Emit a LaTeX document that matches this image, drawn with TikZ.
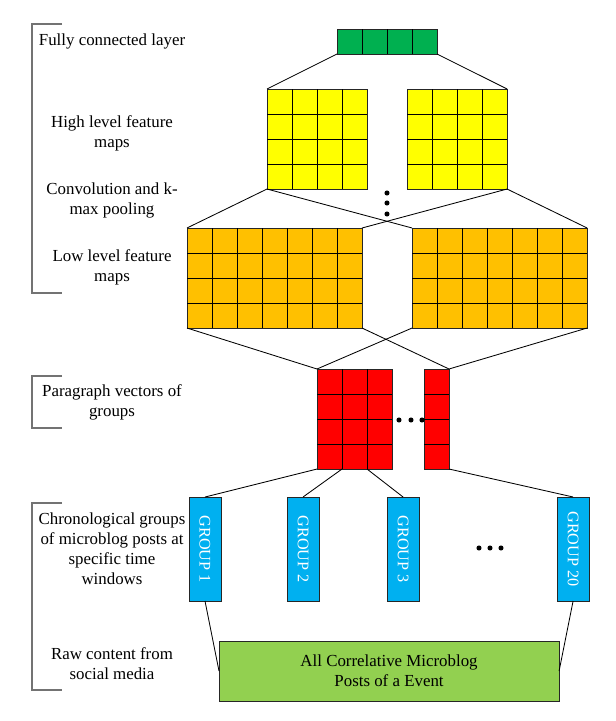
\documentclass[tikz,border=0pt]{standalone}
\usepackage{fontspec}
\setmainfont{Liberation Serif}
\usetikzlibrary{calc,positioning}
\definecolor{fcgreen}{HTML}{00B050}
\definecolor{hlyellow}{HTML}{FFFF00}
\definecolor{llorange}{HTML}{FFC000}
\definecolor{pvred}{HTML}{FF0000}
\definecolor{grpblue}{HTML}{00B0F0}
\definecolor{rawgreen}{HTML}{92D050}
\tikzset{%
	fmap/.style     = {draw=black!85, rectangle, inner sep=0pt, outer sep=0pt, line width=0.6pt},
	fmapline/.style = {line width=0.6pt},
	fcbox/.style    = {fmap, fill=fcgreen, minimum width=2.5cm, minimum height=0.625cm},
	highmap/.style  = {fmap, fill=hlyellow, minimum width=2.5cm, minimum height=2.5cm},
	lowmap/.style   = {fmap, fill=llorange, minimum width=4.375cm, minimum height=2.5cm},
	parvec/.style   = {fmap, fill=pvred, minimum height=2.5cm},
	groupbox/.style = {fmap, fill=grpblue, minimum width=0.8cm, minimum height=2.6cm, text=white, font=\fontsize{11.5}{13}\selectfont},
	rawbox/.style   = {fmap, fill=rawgreen, minimum width=8.5cm, minimum height=1.5cm, align=center, font=\fontsize{12}{14.2}\selectfont},
	desc/.style     = {align=center, inner sep=0pt, font=\fontsize{12}{14.2}\selectfont},
	link/.style     = {line width=0.6pt},
	bracket/.style  = {line width=0.8pt, draw=black!55},
}
% inner cell lines of a map: node, columns, rows
\newcommand{\cellgrid}[3]{%
	\foreach \i in {1,...,#2}{\ifnum\i<#2
		\draw[fmapline] ($(#1.south west)!\i/#2!(#1.south east)$) -- ($(#1.north west)!\i/#2!(#1.north east)$);\fi}
	\foreach \j in {1,...,#3}{\ifnum\j<#3
		\draw[fmapline] ($(#1.south west)!\j/#3!(#1.north west)$) -- ($(#1.south east)!\j/#3!(#1.north east)$);\fi}
}
\begin{document}
\begin{tikzpicture}[x=0.025cm,y=-0.025cm]
	\useasboundingbox (0,0) rectangle (616,721);

	% layers
	\node [fcbox, anchor=north west] (fc) at (337,29) {};
	\node [highmap, anchor=north west] (hl1) at (267,89) {};
	\node [highmap, right=1cm of hl1] (hl2) {};
	\node [lowmap, anchor=north west] (ll1) at (187,228) {};
	\node [lowmap, right=1.25cm of ll1] (ll2) {};
	\node [parvec, minimum width=1.875cm, anchor=north west] (pv1) at (317,369) {};
	\node [parvec, minimum width=0.625cm, right=0.8cm of pv1] (pv2) {};
	\node [groupbox, anchor=north west] (g1) at (189,497) {\rotatebox{-90}{GROUP 1}};
	\node [groupbox, right=1.65cm of g1] (g2) {\rotatebox{-90}{GROUP 2}};
	\node [groupbox, right=1.7cm of g2] (g3) {\rotatebox{-90}{GROUP 3}};
	\node [groupbox, right=3.45cm of g3] (g20) {\rotatebox{-90}{GROUP 20}};
	\node [rawbox, anchor=north west] (raw) at (219,641) {All Correlative Microblog\\Posts of a Event};

	\cellgrid{fc}{4}{1}
	\cellgrid{hl1}{4}{4}
	\cellgrid{hl2}{4}{4}
	\cellgrid{ll1}{7}{4}
	\cellgrid{ll2}{7}{4}
	\cellgrid{pv1}{3}{4}
	\cellgrid{pv2}{1}{4}

	% connections
	\draw[link] (fc.south west) -- (hl1.north west);
	\draw[link] (fc.south east) -- (hl2.north east);
	\draw[link] (hl1.south west) -- (ll1.north west);
	\draw[link] (hl1.south west) -- (ll2.north west);
	\draw[link] (hl2.south east) -- (ll1.north east);
	\draw[link] (hl2.south east) -- (ll2.north east);
	\draw[link] (ll1.south west) -- (pv1.north west);
	\draw[link] (ll2.south west) -- (pv1.north west);
	\draw[link] (ll1.south east) -- (pv2.north east);
	\draw[link] (ll2.south east) -- (pv2.north east);
	\draw[link] (pv1.south west) -- (g1.north);
	\draw[link] ($(pv1.south west)!1/3!(pv1.south east)$) -- (g2.north);
	\draw[link] ($(pv1.south west)!2/3!(pv1.south east)$) -- (g3.north);
	\draw[link] (pv2.south east) -- (g20.north);
	\draw[link] (g1.south) -- (raw.west);
	\draw[link] (g20.south) -- (raw.east);

	% dots
	\foreach \y in {193,203,214} \fill (387,\y) circle (1.8pt);
	\foreach \x in {399,411,422} \fill (\x,420) circle (1.8pt);
	\foreach \x in {479,490,501} \fill (\x,548) circle (1.8pt);

	% descriptions
	\node [desc] (tfc) at (112,41) {Fully connected layer};
	\node [desc] (thl) at (112,133) {High level feature\\maps};
	\node [desc] (tconv) at (112,200) {Convolution and k-\\max pooling};
	\node [desc] (tll) at (112,267) {Low level feature\\maps};
	\node [desc] (tpv) at (112,402) {Paragraph vectors of\\groups};
	\node [desc] (tgrp) at (112,549) {Chronological groups\\of microblog posts at\\specific time\\windows};
	\node [desc] (traw) at (112,664) {Raw content from\\social media};

	% brackets
	\draw[bracket] (62,24) -- (32,24) -- (32,293) -- (62,293);
	\draw[bracket] (62,376) -- (32,376) -- (32,428) -- (62,428);
	\draw[bracket] (62,503) -- (32,503) -- (32,690) -- (62,690);
\end{tikzpicture}
\end{document}
